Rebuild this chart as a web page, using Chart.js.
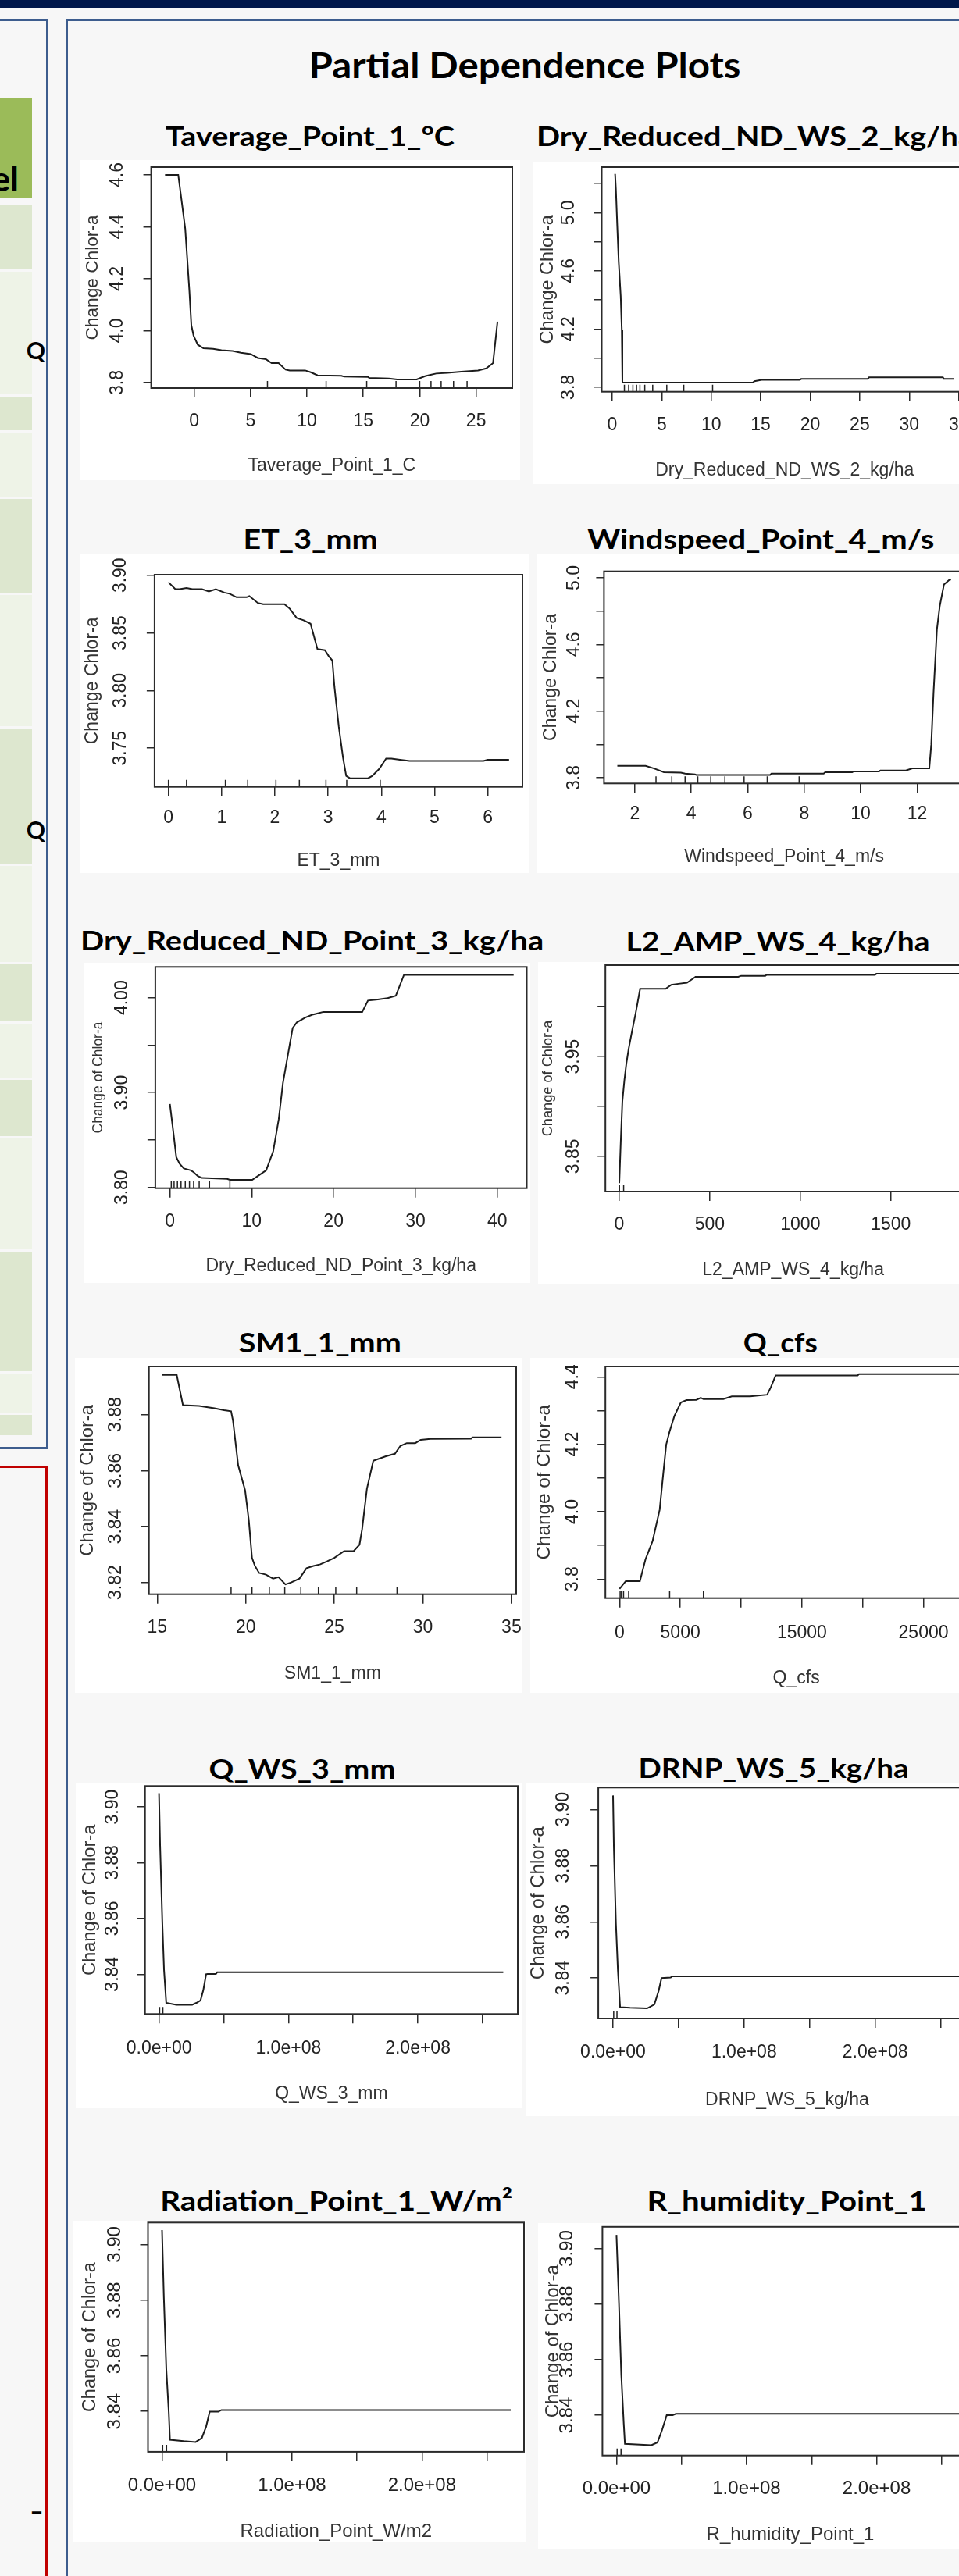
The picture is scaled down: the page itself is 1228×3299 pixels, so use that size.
<!DOCTYPE html>
<html>
<head>
<meta charset="utf-8">
<title>Partial Dependence Plots</title>
<script src="https://cdn.jsdelivr.net/npm/chart.js@4.4.1/dist/chart.umd.min.js"></script>
<style>
  html, body { margin: 0; padding: 0; }
  body { position: relative; width: 1228px; height: 3299px; overflow: hidden; background: #f7f7f7; }
  .blk { position: absolute; box-sizing: border-box; }
  .plot-bg { position: absolute; background: #ffffff; }
  canvas { position: absolute; }
  svg text { font-family: Lato, "Open Sans", sans-serif; font-weight: 700; fill: #000; }
</style>
</head>
<body>
<div class="blk" style="left:0;top:0;width:1228px;height:10px;background:#00174a"></div>
<div class="blk" style="left:-10px;top:24px;width:72px;height:1832px;border:3px solid #3d5d8e"></div>
<div class="blk" style="left:84px;top:24px;width:1200px;height:3300px;border:3px solid #3d5d8e"></div>
<div class="blk" style="left:-10px;top:1877px;width:71px;height:1500px;border:3px solid #c00000"></div>
<div id="table"></div>
<svg id="labels" width="1228" height="3299" style="position:absolute;left:0;top:0"></svg>
<script>
const FAMILY = '"Liberation Sans", Arial, sans-serif';

// ---- Taverage_Point_1 ----
const tavgCurve = [[-2.58, 4.600], [-1.41, 4.600], [-0.79, 4.392], [-0.42, 4.151], [-0.25, 4.021], [-0.05, 3.981],
  [0.32, 3.946], [0.82, 3.932], [1.68, 3.930], [2.42, 3.925], [3.41, 3.922], [4.15, 3.915], [5.02, 3.910],
  [5.64, 3.895], [6.38, 3.890], [6.87, 3.875], [7.49, 3.875], [8.11, 3.850], [8.48, 3.847], [9.84, 3.847],
  [10.34, 3.840], [10.95, 3.828], [13.06, 3.826], [13.3, 3.823], [15.4, 3.822], [15.53, 3.818], [17.26, 3.816],
  [18.0, 3.812], [19.73, 3.812], [20.47, 3.825], [20.97, 3.830], [21.46, 3.835], [22.45, 3.838], [23.69, 3.842],
  [24.18, 3.844], [25.17, 3.847], [25.9, 3.855], [26.5, 3.875], [26.9, 4.035]];
const tavgRug = [6.5, 11.7, 15.3, 17.9, 20.0, 21.0, 21.9, 23.0, 24.2];
const tavgXTicks = [0, 5, 10, 15, 20, 25];
const tavgXLabels = ['0', '5', '10', '15', '20', '25'];
const tavgYTicks = [3.8, 4.0, 4.2, 4.4, 4.6];
const tavgYLabels = ['3.8', '4.0', '4.2', '4.4', '4.6'];
const tavgXRange = [-3.81, 28.21];
const tavgYRange = [3.779, 4.630];

// ---- Dry_Reduced_ND_WS_2 ----
const dryWsCurve = [[0.29, 5.266], [0.37, 5.162], [0.51, 4.910], [0.66, 4.659], [0.86, 4.425], [0.97, 4.192],
  [1.03, 3.832], [14.2, 3.832], [14.37, 3.841], [15.09, 3.850], [18.94, 3.850], [19.09, 3.857], [25.8, 3.857],
  [25.94, 3.868], [33.4, 3.868], [33.5, 3.857], [34.5, 3.857]];
const dryWsRug = [1.23, 1.66, 2.09, 2.46, 2.8, 3.29, 4.09, 5.51, 7.23, 10.14];
const dryWsXTicks = [0, 5, 10, 15, 20, 25, 30, 35];
const dryWsXLabels = ['0', '5', '10', '15', '20', '25', '30', '35'];
const dryWsYTicks = [3.8, 4.0, 4.2, 4.4, 4.6, 4.8, 5.0, 5.2];
const dryWsYLabels = ['3.8', '', '4.2', '', '4.6', '', '5.0', ''];
const dryWsXRange = [-1.06, 35.9];
const dryWsYRange = [3.769, 5.313];

// ---- ET_3_mm ----
const etCurve = [[0.0, 3.894], [0.13, 3.888], [0.21, 3.888], [0.34, 3.889], [0.45, 3.888], [0.63, 3.888],
  [0.76, 3.886], [0.89, 3.888], [1.05, 3.885], [1.15, 3.884], [1.28, 3.881], [1.47, 3.881], [1.52, 3.882],
  [1.68, 3.876], [1.78, 3.875], [2.18, 3.875], [2.28, 3.871], [2.41, 3.863], [2.54, 3.861], [2.67, 3.858],
  [2.80, 3.836], [2.94, 3.835], [3.01, 3.830], [3.08, 3.826], [3.12, 3.803], [3.20, 3.769], [3.28, 3.742],
  [3.34, 3.726], [3.41, 3.724], [3.75, 3.724], [3.83, 3.726], [3.96, 3.732], [4.09, 3.741], [4.19, 3.741],
  [4.35, 3.740], [4.53, 3.739], [5.92, 3.739], [6.0, 3.740], [6.4, 3.740]];
const etRug = [0.0, 0.34, 1.07, 1.49, 2.02, 2.46, 2.96, 3.35, 3.98];
const etXTicks = [0, 1, 2, 3, 4, 5, 6];
const etXLabels = ['0', '1', '2', '3', '4', '5', '6'];
const etYTicks = [3.75, 3.80, 3.85, 3.90];
const etYLabels = ['3.75', '3.80', '3.85', '3.90'];
const etXRange = [-0.261, 6.652];
const etYRange = [3.7165, 3.9005];

// ---- Windspeed_Point_4 ----
const windCurve = [[1.38, 3.872], [2.38, 3.872], [2.68, 3.856], [3.03, 3.833], [3.63, 3.831], [3.78, 3.825],
  [4.13, 3.820], [4.18, 3.817], [6.79, 3.817], [6.84, 3.825], [8.69, 3.825], [8.74, 3.833], [9.70, 3.833],
  [9.75, 3.838], [10.65, 3.838], [10.70, 3.844], [11.60, 3.844], [11.83, 3.856], [12.43, 3.856], [12.50, 4.0],
  [12.58, 4.31], [12.70, 4.69], [12.80, 4.83], [12.95, 4.96], [13.15, 4.99], [13.2, 4.99]];
const windRug = [2.75, 3.31, 3.78, 4.23, 4.69, 5.19, 5.87, 6.69, 7.82];
const windXTicks = [2, 4, 6, 8, 10, 12];
const windXLabels = ['2', '4', '6', '8', '10', '12'];
const windYTicks = [3.8, 4.0, 4.2, 4.4, 4.6, 4.8, 5.0];
const windYLabels = ['3.8', '', '4.2', '', '4.6', '', '5.0'];
const windXRange = [0.907, 13.67];
const windYRange = [3.766, 5.039];

// ---- Dry_Reduced_ND_Point_3 ----
const dryPtCurve = [[0, 3.888], [0.34, 3.864], [0.78, 3.832], [1.19, 3.825], [1.70, 3.820], [2.56, 3.818],
  [2.90, 3.816], [3.41, 3.812], [3.92, 3.810], [6.99, 3.809], [7.33, 3.808], [10.06, 3.808], [10.74, 3.812],
  [11.76, 3.818], [12.62, 3.838], [13.30, 3.872], [13.81, 3.910], [14.32, 3.935], [15.0, 3.968], [15.51, 3.974],
  [16.54, 3.979], [17.39, 3.982], [17.90, 3.983], [18.75, 3.985], [23.5, 3.985], [24.2, 3.997], [25.4, 3.998],
  [26.6, 3.9995], [27.6, 4.002], [28.6, 4.024], [42.0, 4.024]];
const dryPtRug = [0.17, 0.51, 0.92, 1.36, 1.88, 2.39, 2.90, 3.58, 4.84, 7.33];
const dryPtXTicks = [0, 10, 20, 30, 40];
const dryPtXLabels = ['0', '10', '20', '30', '40'];
const dryPtYTicks = [3.80, 3.85, 3.90, 3.95, 4.00];
const dryPtYLabels = ['3.80', '', '3.90', '', '4.00'];
const dryPtXRange = [-1.78, 43.6];
const dryPtYRange = [3.7992, 4.0324];

// ---- L2_AMP_WS_4 ----
const ampCurve = [[0, 3.823], [8, 3.864], [17, 3.905], [28, 3.926], [39, 3.943], [52, 3.958], [71, 3.976],
  [91, 3.994], [115, 4.018], [256, 4.018], [287, 4.022], [327, 4.023], [374, 4.024], [390, 4.026], [421, 4.030],
  [657, 4.030], [673, 4.031], [806, 4.031], [814, 4.032], [1412, 4.032], [1420, 4.033], [1920, 4.033]];
const ampRug = [1, 24];
const ampXTicks = [0, 500, 1000, 1500];
const ampXLabels = ['0', '500', '1000', '1500'];
const ampYTicks = [3.85, 3.90, 3.95, 4.00];
const ampYLabels = ['3.85', '', '3.95', ''];
const ampXRange = [-76.8, 1997];
const ampYRange = [3.8146, 4.0417];

// ---- SM1_1_mm ----
const smCurve = [[15.28, 3.8942], [16.10, 3.8942], [16.45, 3.8834], [17.36, 3.8831], [18.23, 3.8823],
  [18.78, 3.8816], [19.17, 3.8812], [19.28, 3.8777], [19.57, 3.8619], [19.96, 3.8530], [20.17, 3.8423],
  [20.35, 3.8288], [20.51, 3.8260], [20.75, 3.8234], [21.14, 3.8228], [21.54, 3.8214], [21.85, 3.8219],
  [22.24, 3.8193], [22.56, 3.8200], [23.03, 3.8214], [23.43, 3.8251], [23.82, 3.8259], [24.21, 3.8265],
  [24.61, 3.8276], [25.0, 3.8288], [25.55, 3.8312], [26.10, 3.8313], [26.42, 3.8335], [26.57, 3.8391],
  [26.84, 3.8535], [27.20, 3.8635], [27.91, 3.8651], [28.42, 3.8660], [28.73, 3.8688], [29.09, 3.8698],
  [29.57, 3.8698], [29.88, 3.8710], [30.43, 3.8713], [32.72, 3.8714], [32.80, 3.8719], [34.44, 3.8719]];
const smRug = [19.17, 20.35, 21.33, 22.2, 23.11, 24.1, 25.08, 26.26, 28.54];
const smXTicks = [15, 20, 25, 30, 35];
const smXLabels = ['15', '20', '25', '30', '35'];
const smYTicks = [3.82, 3.84, 3.86, 3.88];
const smYLabels = ['3.82', '3.84', '3.86', '3.88'];
const smXRange = [14.53, 35.27];
const smYRange = [3.8158, 3.8972];

// ---- Q_cfs ----
const qCurve = [[0, 3.771], [512, 3.794], [1675, 3.794], [2140, 3.859], [2721, 3.913], [3303, 4.006],
  [3535, 4.091], [3838, 4.199], [4117, 4.238], [4512, 4.284], [5047, 4.324], [5512, 4.331], [6326, 4.332],
  [6675, 4.338], [6908, 4.334], [8536, 4.334], [9234, 4.342], [10746, 4.342], [12142, 4.347], [12444, 4.369],
  [12840, 4.404], [19585, 4.404], [19701, 4.408], [29070, 4.408]];
const qRug = [50, 160, 330, 750, 4120, 6900];
const qXTicks = [0, 5000, 10000, 15000, 20000, 25000, 30000];
const qXLabels = ['0', '5000', '', '15000', '', '25000', ''];
const qYTicks = [3.8, 3.9, 4.0, 4.1, 4.2, 4.3, 4.4];
const qYLabels = ['3.8', '', '4.0', '', '4.2', '', '4.4'];
const qXRange = [-1163, 30231];
const qYRange = [3.7435, 4.4308];

// ---- Q_WS_3_mm ----
const qwsCurve = [[0, 3.9049], [8.6e5, 3.8862], [2.6e6, 3.8582], [3.9e6, 3.8414], [5.6e6, 3.8297],
  [1.34e7, 3.8290], [2.56e7, 3.8290], [2.89e7, 3.8297], [3.21e7, 3.8306], [3.43e7, 3.8344], [3.64e7, 3.8400],
  [3.75e7, 3.8401], [4.4e7, 3.8401], [4.5e7, 3.8407], [2.66e8, 3.8407]];
const qwsRug = [5e5, 3e6];

// ---- DRNP_WS_5 ----
const drnpCurve = [[0, 3.905], [6.5e5, 3.8863], [2.2e6, 3.8594], [3.7e6, 3.8428], [5.4e6, 3.8296],
  [1.3e7, 3.8294], [2.6e7, 3.8292], [3.15e7, 3.8306], [3.48e7, 3.8354], [3.7e7, 3.8400], [4.4e7, 3.8402],
  [4.5e7, 3.8406], [2.66e8, 3.8406]];
const drnpRug = [5e5, 3e6];

// ---- Radiation_Point_1 ----
const radCurve = [[0, 3.9052], [1.4e6, 3.8811], [3.3e6, 3.8552], [5.2e6, 3.8397], [6.1e6, 3.8298],
  [1.65e7, 3.8293], [2.59e7, 3.8290], [3.06e7, 3.8304], [3.39e7, 3.8345], [3.67e7, 3.8399], [4.33e7, 3.8399],
  [4.57e7, 3.8405], [2.683e8, 3.8405]];
const radRug = [5e5, 3.5e6];

// ---- R_humidity_Point_1 ----
const rhCurve = [[0, 3.9049], [1.9e6, 3.8805], [3.7e6, 3.8546], [5.6e6, 3.8369], [6.5e6, 3.8297],
  [1.5e7, 3.8295], [2.68e7, 3.8292], [3.15e7, 3.8302], [3.52e7, 3.8349], [3.86e7, 3.8400], [4.32e7, 3.8400],
  [4.56e7, 3.8405], [2.67e8, 3.8405]];
const rhRug = [5e5, 3.5e6];

// shared ticks of the four 1e8-scale plots
const bigXTicks = [0, 5e7, 1e8, 1.5e8, 2e8, 2.5e8];
const bigXLabels = ['0.0e+00', '', '1.0e+08', '', '2.0e+08', ''];
const smallYTicks = [3.84, 3.86, 3.88, 3.90];
const smallYLabels = ['3.84', '3.86', '3.88', '3.90'];

// white image area, plot box [left, top, right, bottom], label offsets [yTick, yTitle, xTick, xTitle], heading [cx, baseline, width]
const plots = [
  { title: 'Taverage_Point_1_°C', xTitle: 'Taverage_Point_1_C', yTitle: 'Change Chlor-a',
    curve: tavgCurve, rug: tavgRug, xTicks: tavgXTicks, xLabels: tavgXLabels, yTicks: tavgYTicks, yLabels: tavgYLabels,
    xRange: tavgXRange, yRange: tavgYRange,
    white: [103, 205, 666, 615], box: [193.6, 214, 656, 497], off: [42.6, 74.6, 43, 99.7], tickSize: 23, yTitleSize: 22.7,
    head: [397, 186.7, 370] },
  { title: 'Dry_Reduced_ND_WS_2_kg/ha', xTitle: 'Dry_Reduced_ND_WS_2_kg/ha', yTitle: 'Change Chlor-a',
    curve: dryWsCurve, rug: dryWsRug, xTicks: dryWsXTicks, xLabels: dryWsXLabels, yTicks: dryWsYTicks, yLabels: dryWsYLabels,
    xRange: dryWsXRange, yRange: dryWsYRange,
    white: [682.5, 208, 1240, 620], box: [770.5, 214, 1239.1, 501.7], off: [41.7, 68.8, 43.3, 101.3], tickSize: 23, yTitleSize: 23.4,
    head: [967, 186.7, 560] },
  { title: 'ET_3_mm', xTitle: 'ET_3_mm', yTitle: 'Change Chlor-a',
    curve: etCurve, rug: etRug, xTicks: etXTicks, xLabels: etXLabels, yTicks: etYTicks, yLabels: etYLabels,
    xRange: etXRange, yRange: etYRange,
    white: [102, 710, 677, 1118], box: [197.9, 736, 669, 1007.7], off: [42.9, 78.9, 40.3, 95.3], tickSize: 23, yTitleSize: 23.1,
    head: [397.5, 703.3, 172] },
  { title: 'Windspeed_Point_4_m/s', xTitle: 'Windspeed_Point_4_m/s', yTitle: 'Change Chlor-a',
    curve: windCurve, rug: windRug, xTicks: windXTicks, xLabels: windXLabels, yTicks: windYTicks, yLabels: windYLabels,
    xRange: windXRange, yRange: windYRange,
    white: [687, 710, 1240, 1118], box: [773.4, 731.7, 1234.8, 1003.3], off: [37.4, 68.1, 39.7, 94.7], tickSize: 23, yTitleSize: 23.1,
    head: [974.3, 703, 444] },
  { title: 'Dry_Reduced_ND_Point_3_kg/ha', xTitle: 'Dry_Reduced_ND_Point_3_kg/ha', yTitle: 'Change of Chlor-a',
    curve: dryPtCurve, rug: dryPtRug, xTicks: dryPtXTicks, xLabels: dryPtXLabels, yTicks: dryPtYTicks, yLabels: dryPtYLabels,
    xRange: dryPtXRange, yRange: dryPtYRange,
    white: [108, 1233, 679, 1643], box: [198.9, 1238.3, 674.5, 1521.7], off: [42.1, 73.2, 43.3, 100], tickSize: 23, yTitleSize: 17.5,
    head: [399.6, 1216.7, 593] },
  { title: 'L2_AMP_WS_4_kg/ha', xTitle: 'L2_AMP_WS_4_kg/ha', yTitle: 'Change of Chlor-a',
    curve: ampCurve, rug: ampRug, xTicks: ampXTicks, xLabels: ampXLabels, yTicks: ampYTicks, yLabels: ampYLabels,
    xRange: ampXRange, yRange: ampYRange,
    white: [689, 1232, 1240, 1645], box: [775.2, 1236, 1256, 1526], off: [40.9, 73.5, 42.3, 100.7], tickSize: 23, yTitleSize: 18.2,
    head: [996, 1218, 389] },
  { title: 'SM1_1_mm', xTitle: 'SM1_1_mm', yTitle: 'Change of Chlor-a',
    curve: smCurve, rug: smRug, xTicks: smXTicks, xLabels: smXLabels, yTicks: smYTicks, yLabels: smYLabels,
    xRange: smXRange, yRange: smYRange,
    white: [96, 1739, 668, 2168], box: [190.7, 1750, 661, 2041.7], off: [41.7, 78.7, 43.3, 101.6], tickSize: 23, yTitleSize: 23.7,
    head: [409.8, 1731.7, 208] },
  { title: 'Q_cfs', xTitle: 'Q_cfs', yTitle: 'Change of Chlor-a',
    curve: qCurve, rug: qRug, xTicks: qXTicks, xLabels: qXLabels, yTicks: qYTicks, yLabels: qYLabels,
    xRange: qXRange, yRange: qYRange,
    white: [679, 1739, 1240, 2168], box: [775.2, 1750, 1264, 2046.7], off: [41.2, 78.2, 45, 103.3], tickSize: 23, yTitleSize: 24.3,
    head: [999.3, 1731.7, 95] },
  { title: 'Q_WS_3_mm', xTitle: 'Q_WS_3_mm', yTitle: 'Change of Chlor-a',
    curve: qwsCurve, rug: qwsRug, xTicks: bigXTicks, xLabels: bigXLabels, yTicks: smallYTicks, yLabels: smallYLabels,
    xRange: [-1.08e7, 2.772e8], yRange: [3.8257, 3.9075],
    white: [97, 2283, 668, 2700], box: [185.7, 2287.3, 663, 2579.3], off: [41.4, 70.7, 44, 102.4], tickSize: 23, yTitleSize: 23.7,
    head: [387, 2278.3, 239] },
  { title: 'DRNP_WS_5_kg/ha', xTitle: 'DRNP_WS_5_kg/ha', yTitle: 'Change of Chlor-a',
    curve: drnpCurve, rug: drnpRug, xTicks: bigXTicks, xLabels: bigXLabels, yTicks: smallYTicks, yLabels: smallYLabels,
    xRange: [-1.126e7, 2.77e8], yRange: [3.8256, 3.9078],
    white: [673, 2283, 1240, 2710], box: [766.1, 2289.3, 1249.8, 2585], off: [44.5, 77.1, 43.3, 105], tickSize: 23, yTitleSize: 24,
    head: [990.5, 2276.7, 346] },
  { title: 'Radiation_Point_1_W/m²', xTitle: 'Radiation_Point_W/m2', yTitle: 'Change of Chlor-a',
    curve: radCurve, rug: radRug, xTicks: bigXTicks, xLabels: bigXLabels, yTicks: smallYTicks, yLabels: smallYLabels,
    xRange: [-1.08e7, 2.785e8], yRange: [3.8255, 3.9079],
    white: [94, 2844, 673, 3256], box: [189.5, 2846.3, 671, 3139.9], off: [42.5, 73.5, 43.5, 102.6], tickSize: 24, yTitleSize: 23.5,
    head: [430.7, 2830.8, 451] },
  { title: 'R_humidity_Point_1', xTitle: 'R_humidity_Point_1', yTitle: 'Change of Chlor-a',
    curve: rhCurve, rug: rhRug, xTicks: bigXTicks, xLabels: bigXLabels, yTicks: smallYTicks, yLabels: smallYLabels,
    xRange: [-1.08e7, 2.78e8], yRange: [3.8255, 3.9078],
    white: [689, 2847, 1240, 3265], box: [771.4, 2851.8, 1252.5, 3144.7], off: [44.7, 62.7, 42.3, 101.3], tickSize: 24, yTitleSize: 24,
    head: [1007.5, 2830.8, 358] }
];

// left side table strip of the poster (top, bottom, colour)
const tableRows = [
  [125, 253, '#9bbb59'], [262, 345, '#dde7cf'], [348, 505, '#eef3e7'], [508, 551, '#dde7cf'], [554, 636, '#eef3e7'],
  [639, 759, '#dde7cf'], [762, 930, '#eef3e7'], [933, 1106, '#dde7cf'], [1109, 1232, '#eef3e7'], [1235, 1308, '#dde7cf'],
  [1311, 1380, '#eef3e7'], [1383, 1455, '#dde7cf'], [1458, 1600, '#eef3e7'], [1603, 1756, '#dde7cf'],
  [1759, 1809, '#eef3e7'], [1812, 1838, '#dde7cf']
];

const svg = document.getElementById('labels');
const SVGNS = 'http://www.w3.org/2000/svg';

function addText(text, x, y, size, attrs) {
  const t = document.createElementNS(SVGNS, 'text');
  t.setAttribute('x', x);
  t.setAttribute('y', y);
  t.setAttribute('font-size', size);
  Object.keys(attrs || {}).forEach(k => t.setAttribute(k, attrs[k]));
  t.textContent = text;
  svg.appendChild(t);
  return t;
}

function heading(text, cx, baseline, width, size) {
  addText(text, cx, baseline, size, {
    'text-anchor': 'middle', textLength: width, lengthAdjust: 'spacingAndGlyphs'
  });
}

function drawTable() {
  const holder = document.getElementById('table');
  tableRows.forEach(([top, bottom, colour]) => {
    const d = document.createElement('div');
    d.className = 'blk';
    d.style.cssText = `left:0;top:${top}px;width:41px;height:${bottom - top}px;background:${colour}`;
    holder.appendChild(d);
  });
  addText('el', 24, 245, 44, { 'text-anchor': 'end', fill: '#ffffff' });
  addText('Q', 58, 460, 30, { 'text-anchor': 'end', 'font-weight': 400 });
  addText('Q', 58, 1074, 30, { 'text-anchor': 'end', 'font-weight': 400 });
  addText('–', 47, 3227, 30, { 'text-anchor': 'middle', 'font-weight': 400 });
}

// R style frame: box, rug marks and rotated y tick labels
function rPlotPlugin(p) {
  return {
    id: 'rPlot',
    afterDatasetsDraw(chart) {
      const { ctx, chartArea: a, scales: { x, y } } = chart;
      ctx.save();
      ctx.strokeStyle = '#222';
      ctx.lineWidth = 1.5;
      ctx.beginPath();
      p.rug.forEach(v => {
        const px = x.getPixelForValue(v);
        ctx.moveTo(px, a.bottom);
        ctx.lineTo(px, a.bottom - 9);
      });
      ctx.stroke();

      ctx.strokeStyle = '#2b2b2b';
      ctx.lineWidth = 2;
      ctx.strokeRect(a.left, a.top, a.right - a.left, a.bottom - a.top);

      ctx.fillStyle = '#222';
      ctx.font = `${p.tickSize}px ${FAMILY}`;
      ctx.textAlign = 'center';
      ctx.textBaseline = 'middle';
      y.ticks.forEach((t, i) => {
        const label = p.yLabels[i];
        if (!label) return;
        ctx.save();
        ctx.translate(a.left - p.off[0], y.getPixelForValue(t.value));
        ctx.rotate(-Math.PI / 2);
        ctx.fillText(label, 0, 0);
        ctx.restore();
      });
      ctx.restore();
    }
  };
}

function addWhite(p) {
  const [l, t, r, b] = p.white;
  const d = document.createElement('div');
  d.className = 'plot-bg';
  d.style.cssText = `left:${l}px;top:${t}px;width:${r - l}px;height:${b - t}px`;
  document.body.appendChild(d);
}

function drawPlot(p) {
  const [wl, wt, , wb] = p.white;
  const [bl, bt, br, bb] = p.box;
  const left = Math.round(wl - 20);
  const top = Math.round(wt - 10);
  const right = Math.round(br + 40);
  const bottom = Math.round(wb + 20);

  const canvas = document.createElement('canvas');
  canvas.width = right - left;
  canvas.height = bottom - top;
  canvas.style.left = left + 'px';
  canvas.style.top = top + 'px';
  document.body.appendChild(canvas);

  const axisW = bl - left;
  const axisH = bottom - bb;
  const tickFont = { family: FAMILY, size: p.tickSize };
  const yTitleFont = { family: FAMILY, size: p.yTitleSize };

  return new Chart(canvas, {
    type: 'line',
    data: {
      datasets: [{
        data: p.curve.map(([x, y]) => ({ x, y })),
        borderColor: '#1c1c1c',
        borderWidth: 2,
        pointRadius: 0,
        tension: 0
      }]
    },
    options: {
      responsive: false,
      animation: false,
      events: [],
      layout: { padding: { left: 0, top: bt - top, right: right - br, bottom: 0 } },
      plugins: { legend: { display: false }, tooltip: { enabled: false } },
      scales: {
        x: {
          type: 'linear',
          min: p.xRange[0],
          max: p.xRange[1],
          afterBuildTicks: s => { s.ticks = p.xTicks.map(value => ({ value })); },
          afterFit: s => { s.height = axisH; },
          grid: { drawOnChartArea: false, tickLength: 12, color: '#2b2b2b', lineWidth: 1.5 },
          border: { display: false },
          ticks: {
            autoSkip: false, maxRotation: 0, minRotation: 0, color: '#222', font: tickFont,
            padding: p.off[2] - 12 - 0.6 * p.tickSize,
            callback: (v, i) => p.xLabels[i]
          },
          title: {
            display: true, text: p.xTitle, color: '#333', font: tickFont,
            padding: { top: 0, bottom: axisH - p.off[3] - 0.6 * p.tickSize }
          }
        },
        y: {
          type: 'linear',
          min: p.yRange[0],
          max: p.yRange[1],
          afterBuildTicks: s => { s.ticks = p.yTicks.map(value => ({ value })); },
          afterFit: s => { s.width = axisW; },
          grid: { drawOnChartArea: false, tickLength: 10, color: '#2b2b2b', lineWidth: 1.5 },
          border: { display: false },
          ticks: { display: false },
          title: {
            display: true, text: p.yTitle, color: '#333', font: yTitleFont,
            padding: { top: axisW - p.off[1] - 0.6 * p.yTitleSize, bottom: 0 }
          }
        }
      }
    },
    plugins: [rPlotPlugin(p)]
  });
}

drawTable();
heading('Partial Dependence Plots', 672, 100, 553, 45);
plots.forEach(p => heading(p.title, p.head[0], p.head[1], p.head[2], 35));
plots.forEach(addWhite);
plots.forEach(drawPlot);
</script>
</body>
</html>
